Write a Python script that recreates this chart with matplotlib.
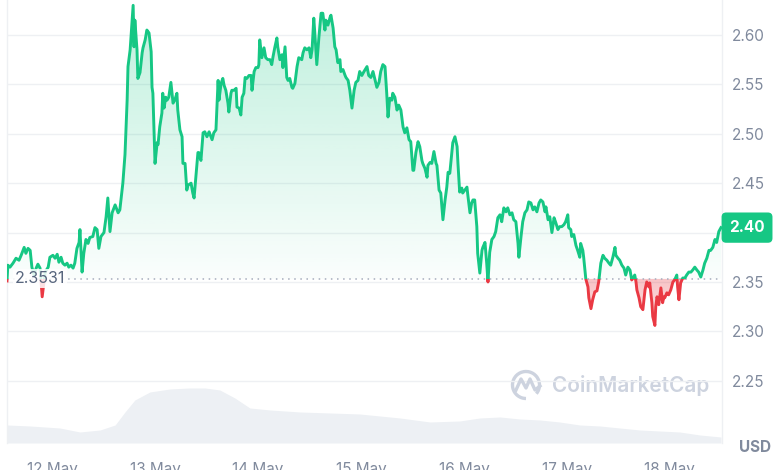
import numpy as np
import pandas as pd
import matplotlib
matplotlib.use('Agg')
import matplotlib.pyplot as plt
import matplotlib.dates as mdates
from matplotlib.colors import to_rgb
from matplotlib.patches import Rectangle, Arc
from matplotlib.lines import Line2D
from matplotlib.path import Path
from matplotlib.transforms import blended_transform_factory, IdentityTransform

plt.rcParams['font.family'] = ['Inter', 'DejaVu Sans']

# ---- data ----
start = pd.Timestamp('2024-05-11 13:30')
base_price = 2.3531

hours = [0.0, 0.2, 0.7, 1.4, 2.1, 2.8, 3.3, 4.0, 4.4, 4.9, 5.4, 5.8, 6.3, 6.8, 7.2, 7.7, 8.2, 8.9, 9.6,
         10.0, 10.7, 11.2, 11.7, 12.1, 12.6, 13.0, 13.5, 14.0, 14.4, 14.9, 15.4, 15.8, 16.3, 16.8, 17.0,
         17.5, 17.9, 18.4, 18.9, 19.3, 20.0, 20.5, 21.0, 21.4, 21.9, 22.6, 23.1, 23.5, 24.0, 24.5, 25.2,
         25.9, 26.3, 27.0, 27.5, 28.0, 28.2, 28.7, 29.4, 29.6, 29.8, 30.3, 30.5, 31.0, 31.5, 31.7, 32.2,
         32.6, 33.1, 33.6, 33.8, 34.0, 34.5, 35.0, 35.2, 35.6, 36.1, 36.3, 36.6, 37.0, 37.3, 37.7, 38.2,
         38.7, 39.1, 39.6, 39.8, 40.3, 40.8, 41.0, 41.5, 41.9, 42.2, 42.9, 43.3, 43.6, 44.0, 44.5, 44.7,
         45.2, 45.7, 46.1, 46.6, 47.1, 47.8, 48.2, 48.7, 49.2, 49.4, 49.9, 50.3, 50.6, 51.0, 51.5, 51.7,
         52.2, 52.4, 52.9, 53.4, 53.6, 54.1, 54.5, 54.8, 55.2, 55.5, 55.9, 56.4, 56.9, 57.1, 57.6, 58.0,
         58.5, 58.7, 58.9, 59.4, 59.9, 60.3, 60.8, 61.3, 61.7, 62.0, 62.4, 62.9, 63.1, 63.6, 64.1, 64.3,
         64.8, 65.2, 65.5, 65.9, 66.4, 66.6, 67.1, 67.6, 68.0, 68.7, 69.0, 69.4, 69.9, 70.4, 70.8, 71.1,
         71.5, 71.8, 72.2, 72.7, 73.2, 73.6, 74.1, 74.3, 74.8, 75.3, 75.5, 76.0, 76.4, 76.7, 77.1, 77.6,
         77.8, 78.3, 78.8, 79.0, 79.5, 79.9, 80.4, 80.9, 81.3, 81.8, 82.2, 82.7, 83.2, 83.9, 84.3, 84.8,
         85.3, 85.7, 86.2, 86.7, 87.1, 87.6, 88.1, 88.5, 88.8, 89.2, 89.7, 89.9, 90.4, 90.9, 91.3, 91.8,
         92.3, 92.7, 93.2, 93.7, 94.1, 94.6, 94.8, 95.3, 95.8, 96.2, 96.7, 96.9, 97.4, 97.9, 98.1, 98.6,
         99.0, 99.5, 100.0, 100.2, 100.7, 101.1, 101.6, 102.1, 102.5, 102.8, 103.2, 103.7, 103.9, 104.4,
         104.9, 105.1, 105.5, 106.0, 106.2, 106.7, 107.2, 107.4, 107.9, 108.3, 108.6, 109.0, 109.5,
         109.7, 110.2, 110.7, 110.9, 111.4, 111.8, 112.1, 112.5, 113.0, 113.5, 113.9, 114.4, 114.9,
         115.3, 115.8, 116.3, 116.7, 117.2, 117.7, 118.1, 118.6, 119.1, 119.3, 119.8, 120.2, 120.7,
         121.2, 121.6, 122.1, 122.6, 123.0, 123.5, 124.0, 124.4, 124.9, 125.4, 125.6, 126.1, 126.5,
         127.0, 127.5, 127.9, 128.4, 128.8, 129.3, 129.8, 130.2, 130.7, 130.9, 131.4, 131.6, 132.1,
         132.6, 133.0, 133.5, 133.7, 134.2, 134.4, 134.9, 135.4, 135.6, 136.1, 136.5, 137.0, 137.5,
         137.9, 138.4, 138.9, 139.3, 139.8, 140.3, 140.7, 141.2, 141.7, 141.9, 142.4, 142.8, 143.3,
         143.8, 144.2, 144.7, 145.2, 145.6, 145.9, 146.3, 146.6, 146.8, 147.3, 147.7, 148.2, 148.7,
         149.1, 149.6, 149.8, 150.3, 150.5, 151.0, 151.2, 151.5, 151.9, 152.1, 152.4, 152.8, 153.1,
         153.3, 153.8, 154.2, 154.7, 155.2, 155.6, 156.1, 156.3, 156.6, 157.0, 157.5, 158.0, 158.4,
         158.9, 159.4, 159.8, 160.3, 160.8, 161.2, 161.7, 162.2, 162.6, 163.1, 163.6, 164.0, 164.5,
         165.0, 165.4, 165.9, 166.4]

price = [2.351, 2.367, 2.365, 2.369, 2.374, 2.372, 2.377, 2.385, 2.379, 2.384, 2.382, 2.365, 2.357, 2.364,
         2.368, 2.364, 2.335, 2.360, 2.365,
         2.375, 2.377, 2.374, 2.378, 2.370, 2.375, 2.369, 2.367, 2.369, 2.365, 2.367, 2.364, 2.369, 2.384,
         2.390, 2.403,
         2.360, 2.379, 2.393, 2.389, 2.395, 2.396, 2.405, 2.403, 2.384, 2.396, 2.400, 2.416, 2.435, 2.401,
         2.420, 2.428,
         2.420, 2.423, 2.450, 2.479, 2.534, 2.568, 2.585, 2.630, 2.588, 2.615, 2.585, 2.556, 2.562, 2.582,
         2.587, 2.595,
         2.605, 2.602, 2.583, 2.547, 2.541, 2.470, 2.491, 2.489, 2.507, 2.521, 2.541, 2.526, 2.537, 2.534,
         2.537, 2.552,
         2.531, 2.534, 2.541, 2.524, 2.504, 2.497, 2.470, 2.470, 2.443, 2.448, 2.450, 2.440, 2.435, 2.456,
         2.481, 2.481,
         2.473, 2.501, 2.502, 2.497, 2.502, 2.494, 2.501, 2.504, 2.554, 2.534, 2.551, 2.556, 2.549, 2.544,
         2.531, 2.522,
         2.541, 2.544, 2.544, 2.546, 2.527, 2.526, 2.519, 2.537, 2.541, 2.557, 2.556, 2.559, 2.559, 2.544,
         2.563, 2.567,
         2.567, 2.570, 2.595, 2.577, 2.587, 2.577, 2.575, 2.575, 2.570, 2.578, 2.587, 2.597, 2.588, 2.575,
         2.580, 2.567,
         2.588, 2.557, 2.554, 2.556, 2.547, 2.546, 2.551, 2.568, 2.577, 2.575, 2.582, 2.587, 2.585, 2.587,
         2.577, 2.585,
         2.617, 2.598, 2.570, 2.598, 2.622, 2.622, 2.605, 2.615, 2.610, 2.618, 2.620, 2.607, 2.588, 2.585,
         2.572, 2.575,
         2.563, 2.565, 2.559, 2.557, 2.554, 2.544, 2.526, 2.544, 2.552, 2.554, 2.563, 2.559, 2.563, 2.568,
         2.559, 2.557,
         2.563, 2.556, 2.547, 2.552, 2.563, 2.570, 2.568, 2.541, 2.517, 2.536, 2.534, 2.541, 2.537, 2.524,
         2.529, 2.524,
         2.507, 2.501, 2.506, 2.494, 2.492, 2.463, 2.463, 2.481, 2.492, 2.487, 2.473, 2.470, 2.465, 2.456,
         2.468, 2.471,
         2.470, 2.482, 2.470, 2.468, 2.443, 2.440, 2.413, 2.433, 2.446, 2.461, 2.460, 2.482, 2.491, 2.497,
         2.487, 2.470, 2.441, 2.445, 2.440, 2.443, 2.446, 2.438, 2.420, 2.430, 2.433, 2.433, 2.406,
         2.379, 2.359, 2.382, 2.385, 2.390, 2.369, 2.350, 2.380, 2.393, 2.396, 2.401, 2.415, 2.418,
         2.411, 2.425, 2.421, 2.425, 2.418, 2.420, 2.413, 2.411, 2.389, 2.375, 2.396, 2.411, 2.420,
         2.423, 2.431, 2.430, 2.423, 2.426, 2.421, 2.430, 2.433, 2.431, 2.421, 2.426, 2.413, 2.416,
         2.400, 2.415, 2.410, 2.403, 2.406, 2.406, 2.408, 2.411, 2.418, 2.405, 2.403, 2.396, 2.398,
         2.387, 2.382, 2.375, 2.389, 2.382, 2.375, 2.353, 2.345, 2.334, 2.323, 2.332, 2.340, 2.341,
         2.350, 2.369, 2.377, 2.374, 2.372, 2.369, 2.367, 2.375, 2.385, 2.377, 2.374, 2.372, 2.367,
         2.364, 2.357, 2.365, 2.362, 2.352, 2.354, 2.357, 2.350, 2.342, 2.334, 2.325, 2.322, 2.342,
         2.350, 2.345, 2.349, 2.329, 2.315, 2.306, 2.325, 2.335, 2.327, 2.334, 2.344, 2.329, 2.335,
         2.334, 2.339, 2.337, 2.342, 2.350, 2.352, 2.357, 2.345, 2.332, 2.349, 2.354, 2.354, 2.357,
         2.360, 2.360, 2.362, 2.365, 2.362, 2.360, 2.355, 2.362, 2.369, 2.374, 2.382, 2.382, 2.385,
         2.393, 2.390, 2.401, 2.405]

vol_hours = [0.0, 5.4, 12.3, 17.0, 21.7, 25.2, 27.5, 29.8, 33.3, 38.0, 42.6, 46.1, 49.6, 53.1, 56.6,
             61.3, 68.3, 75.3, 82.2, 91.6, 98.6, 105.5, 110.2, 114.9, 119.5, 124.2, 128.8, 133.5,
             138.2, 142.8, 147.5, 152.1, 156.8, 161.5, 166.4]
volume = [18, 17, 15, 11, 13, 18, 31, 43, 51, 54, 55, 55, 53, 45, 35, 33, 31, 30, 29, 25, 21, 22, 25,
          26, 24, 23, 21, 18, 17, 15, 13, 12, 11, 8, 6]

y_ticks = [2.25, 2.30, 2.35, 2.40, 2.45, 2.50, 2.55, 2.60]

GREEN = '#16c784'
RED = '#ea3943'
GRID = '#eef0f3'
TXT = '#808a9d'

t = mdates.date2num(start + pd.to_timedelta(hours, unit='h'))
tv = mdates.date2num(start + pd.to_timedelta(vol_hours, unit='h'))
price = np.array(price)
last = price[-1]

fig = plt.figure(figsize=(7.8, 4.7), dpi=100)
ax = fig.add_axes([7 / 780, 27 / 470, 715 / 780, 443 / 470])
y_lo, y_hi = 2.187, 2.6354
x_lo, x_hi = t[0], t[-1] + 0.01

# volume in the background
ax2 = ax.twinx()
ax2.fill_between(tv, volume, 0, color='#edf0f4', lw=0)
ax2.set_ylim(0, max(volume) * 8.05)
ax2.axis('off')
ax.set_zorder(ax2.get_zorder() + 1)
ax.patch.set_visible(False)


def region_path(mask):
    pc = ax.fill_between(t, price, base_price, where=mask, interpolate=True,
                         facecolor='none', edgecolor='none')
    return Path.make_compound_path(*pc.get_paths())


# gradient fills between price and the reference price
g = np.zeros((256, 1, 4))
g[..., :3] = to_rgb(GREEN)
g[..., 3] = np.linspace(0.02, 0.28, 256)[:, None]
im = ax.imshow(g, extent=[x_lo, x_hi, base_price, y_hi], origin='lower', aspect='auto', zorder=1)
im.set_clip_path(region_path(price >= base_price), transform=ax.transData)

r = np.zeros((256, 1, 4))
r[..., :3] = to_rgb(RED)
r[..., 3] = np.linspace(0.12, 0.30, 256)[:, None]
im2 = ax.imshow(r, extent=[x_lo, x_hi, 2.29, base_price], origin='lower', aspect='auto', zorder=1)
im2.set_clip_path(region_path(price <= base_price), transform=ax.transData)

# price line, green above the reference price, red below
lg, = ax.plot(t, price, color=GREEN, lw=2.1, zorder=3, solid_joinstyle='round')
lg.set_clip_path(Rectangle((x_lo, base_price), x_hi - x_lo, y_hi - base_price, transform=ax.transData))
lr, = ax.plot(t, price, color=RED, lw=2.1, zorder=3, solid_joinstyle='round')
lr.set_clip_path(Rectangle((x_lo, y_lo), x_hi - x_lo, base_price - y_lo, transform=ax.transData))

ax.axhline(base_price, color='#a6adbd', lw=1.1, ls=(0, (1, 3)), zorder=2)

ax.set_xlim(x_lo, x_hi)
ax.set_ylim(y_lo, y_hi)

# axes styling
ax.grid(axis='y', color=GRID, lw=1)
ax.set_axisbelow(True)
for s in ['top', 'bottom']:
    ax.spines[s].set_visible(False)
for s in ['left', 'right']:
    ax.spines[s].set_color(GRID)
    ax.spines[s].set_linewidth(1)

ax.yaxis.tick_right()
ax.set_yticks(y_ticks)
# the 2.40 label sits under the current price badge
ax.yaxis.set_major_formatter(plt.FuncFormatter(
    lambda v, p: '' if abs(v - round(last, 2)) < 1e-6 else f'{v:.2f}'))
ax.tick_params(axis='y', length=0, pad=7, labelsize=11, labelcolor=TXT)

ax.xaxis.set_major_locator(mdates.DayLocator())
ax.xaxis.set_major_formatter(mdates.DateFormatter('%-d %b'))
ax.tick_params(axis='x', length=0, pad=14, labelsize=11, labelcolor=TXT)

# reference price label
trans = blended_transform_factory(ax.transAxes, ax.transData)
ax.text(0.011, base_price, '2.3531', transform=trans, ha='left', va='center', fontsize=11.5,
        color='#58667e', zorder=6,
        bbox=dict(boxstyle='square,pad=0.12', fc='white', ec='none', alpha=0.85))

# current price badge
ax.text(1.035, last, f'{last:.2f}', transform=trans, ha='center', va='center',
        fontsize=11, fontweight='bold', color='white', zorder=10, clip_on=False,
        bbox=dict(boxstyle='round,pad=0.5,rounding_size=0.3', fc=GREEN, ec='none'))

fig.text(755 / 780, (470 - 447) / 470, 'USD', ha='center', va='center', fontsize=11,
         fontweight='bold', color=TXT)

# watermark
wm = '#cdd3df'
fig.text(552 / 780, (470 - 385) / 470, 'CoinMarketCap', ha='left', va='center', fontsize=15,
         fontweight='semibold', color=wm, zorder=0)
fig.add_artist(Arc((526, 85), 27, 27, theta1=-40, theta2=270, lw=2.4, color=wm,
                   transform=IdentityTransform()))
fig.add_artist(Line2D([516, 521, 526, 530, 535, 540], [80, 91, 82, 91, 80, 84], lw=2.4, color=wm,
                      solid_joinstyle='round', transform=IdentityTransform()))

fig.savefig('out.png', dpi=100)
